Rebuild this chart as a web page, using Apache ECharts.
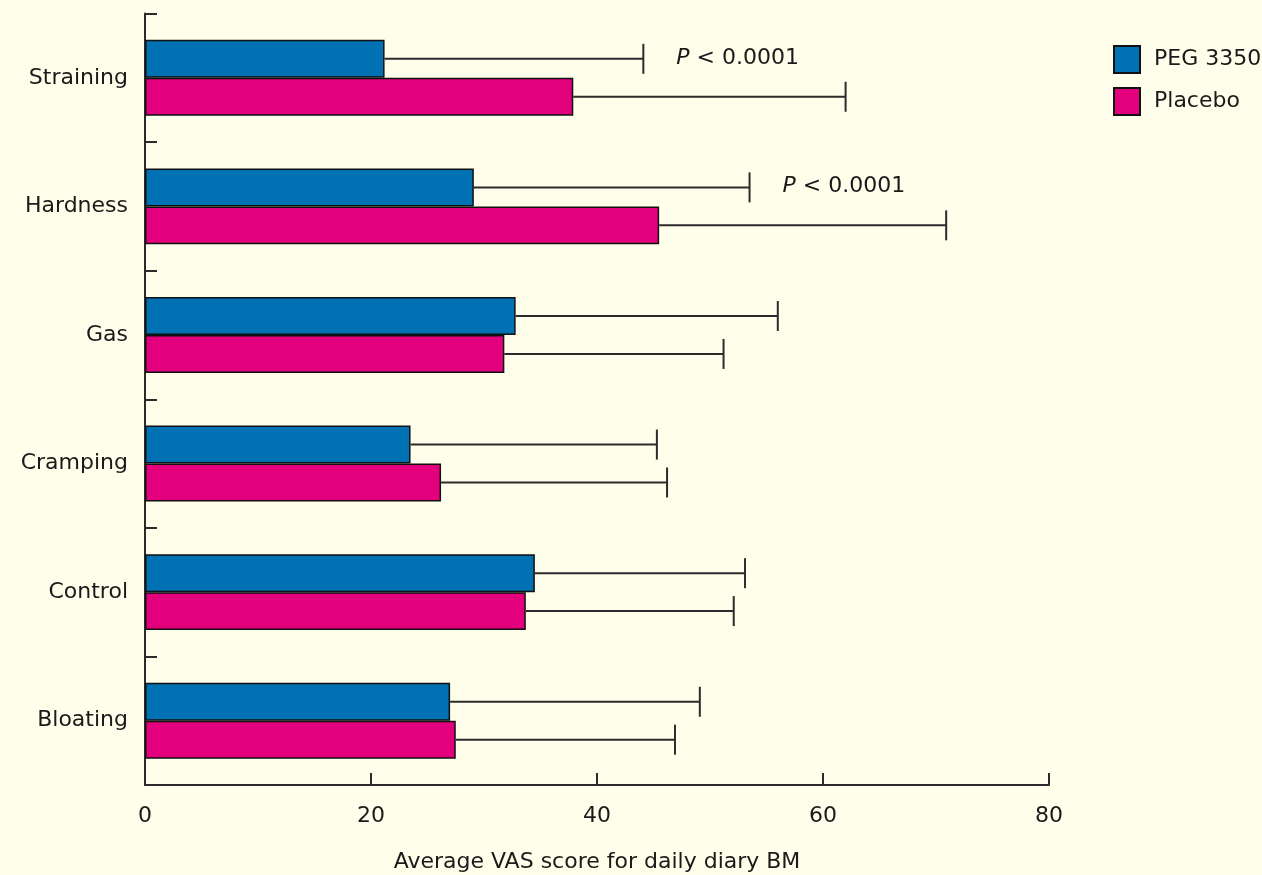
<!DOCTYPE html>
<html>
<head>
<meta charset="utf-8">
<script src="https://cdn.jsdelivr.net/npm/echarts@6/dist/echarts.min.js"></script>
<style>
  html, body { margin: 0; padding: 0; background: #FEFEEA; }
  #chart { width: 1262px; height: 875px; }
</style>
</head>
<body>
<div id="chart"></div>
<script>
// Symptom categories, top to bottom
const categories = ['Straining', 'Hardness', 'Gas', 'Cramping', 'Control', 'Bloating'];

// Mean VAS scores
const pegMeans     = [21.2, 29.1, 32.8, 23.5, 34.5, 27.0];
const placeboMeans = [37.9, 45.5, 31.8, 26.2, 33.7, 27.5];

// Upper ends of the error bars (mean + SD)
const pegUpper     = [44.1, 53.5, 56.0, 45.3, 53.1, 49.1];
const placeboUpper = [62.0, 70.9, 51.2, 46.2, 52.1, 46.9];

// Significance notes next to the PEG 3350 error bars
const pegNotes = ['P < 0.0001', 'P < 0.0001', '', '', '', ''];

const seriesNames = ['PEG 3350', 'Placebo'];
const xTicks = [0, 20, 40, 60, 80];

const FONT = '"DejaVu Sans", Verdana, sans-serif';
const INK = '#2b2b2b';
const TEXT = '#1a1a1a';
const FS = 22;
const CATEGORY_GAP = 0.41;

const chart = echarts.init(document.getElementById('chart'), null, { renderer: 'canvas' });

// Error bar: horizontal whisker from bar end to upper value with a vertical cap
function errorBarRenderer(seriesIndex) {
  return function (params, api) {
    const cat = api.value(0);
    const mean = api.value(1);
    const upper = api.value(2);
    const note = api.value(3);
    const band = api.size([0, 1])[1];
    const barW = band * (1 - CATEGORY_GAP) / 2;
    const start = api.coord([mean, cat]);
    const end = api.coord([upper, cat]);
    const y = start[1] + (seriesIndex === 0 ? -barW / 2 : barW / 2);
    const cap = 15;
    const children = [
      { type: 'line', shape: { x1: start[0], y1: y, x2: end[0], y2: y },
        style: { stroke: INK, lineWidth: 2 } },
      { type: 'line', shape: { x1: end[0], y1: y - cap, x2: end[0], y2: y + cap },
        style: { stroke: INK, lineWidth: 2 } }
    ];
    if (note) {
      const parts = String(note).split(' ');
      children.push({
        type: 'text',
        x: end[0] + 33, y: y - 1,
        style: {
          text: '{p|' + parts[0] + '} ' + parts.slice(1).join(' '),
          rich: { p: { fontStyle: 'italic', fontSize: FS, fontFamily: FONT, fill: TEXT } },
          fontSize: FS, fontFamily: FONT, fill: TEXT,
          verticalAlign: 'middle', align: 'left'
        }
      });
    }
    return { type: 'group', children: children };
  };
}

const pegErr = categories.map((c, i) => [i, pegMeans[i], pegUpper[i], pegNotes[i]]);
const placeboErr = categories.map((c, i) => [i, placeboMeans[i], placeboUpper[i], '']);

const option = {
  backgroundColor: '#FEFEEA',
  animation: false,
  textStyle: { fontFamily: FONT },
  grid: { left: 145, top: 13.5, width: 904, height: 771.5, containLabel: false, outerBoundsMode: 'none' },
  legend: {
    data: seriesNames,
    orient: 'vertical',
    left: 1113, top: 45,
    padding: 0,
    itemWidth: 26, itemHeight: 27, itemGap: 13,
    icon: 'rect',
    textStyle: { fontSize: FS, color: TEXT, fontFamily: FONT, padding: [0, 0, 0, 9] }
  },
  xAxis: {
    type: 'value',
    min: 0, max: 80, interval: 20,
    name: 'Average VAS score for daily diary BM',
    nameLocation: 'middle',
    nameGap: 66,
    nameTextStyle: { fontSize: FS, color: TEXT, fontFamily: FONT },
    axisLine: { show: true, lineStyle: { color: INK, width: 2 } },
    axisTick: { show: true, inside: true, length: 12, lineStyle: { color: INK, width: 2 } },
    axisLabel: { fontSize: FS, color: TEXT, margin: 20, fontFamily: FONT,
                 formatter: v => xTicks.includes(v) ? String(v) : '' },
    splitLine: { show: false }
  },
  yAxis: {
    type: 'category',
    data: categories,
    inverse: true,
    axisLine: { show: true, lineStyle: { color: INK, width: 2 } },
    axisTick: { show: true, inside: true, length: 12, lineStyle: { color: INK, width: 2 } },
    axisLabel: { fontSize: FS, color: TEXT, margin: 17, fontFamily: FONT }
  },
  series: [
    {
      name: seriesNames[0], type: 'bar', data: pegMeans,
      barGap: '0%', barCategoryGap: (CATEGORY_GAP * 100) + '%',
      itemStyle: { color: '#0071B2', borderColor: '#111', borderWidth: 1.5 },
      z: 2
    },
    {
      name: seriesNames[1], type: 'bar', data: placeboMeans,
      barGap: '0%', barCategoryGap: (CATEGORY_GAP * 100) + '%',
      itemStyle: { color: '#E3007D', borderColor: '#111', borderWidth: 1.5 },
      z: 2
    },
    {
      name: 'peg-err', type: 'custom', renderItem: errorBarRenderer(0),
      data: pegErr, encode: { x: [1, 2], y: 0 }, z: 3, silent: true
    },
    {
      name: 'placebo-err', type: 'custom', renderItem: errorBarRenderer(1),
      data: placeboErr, encode: { x: [1, 2], y: 0 }, z: 3, silent: true
    }
  ]
};

chart.setOption(option);
</script>
</body>
</html>
